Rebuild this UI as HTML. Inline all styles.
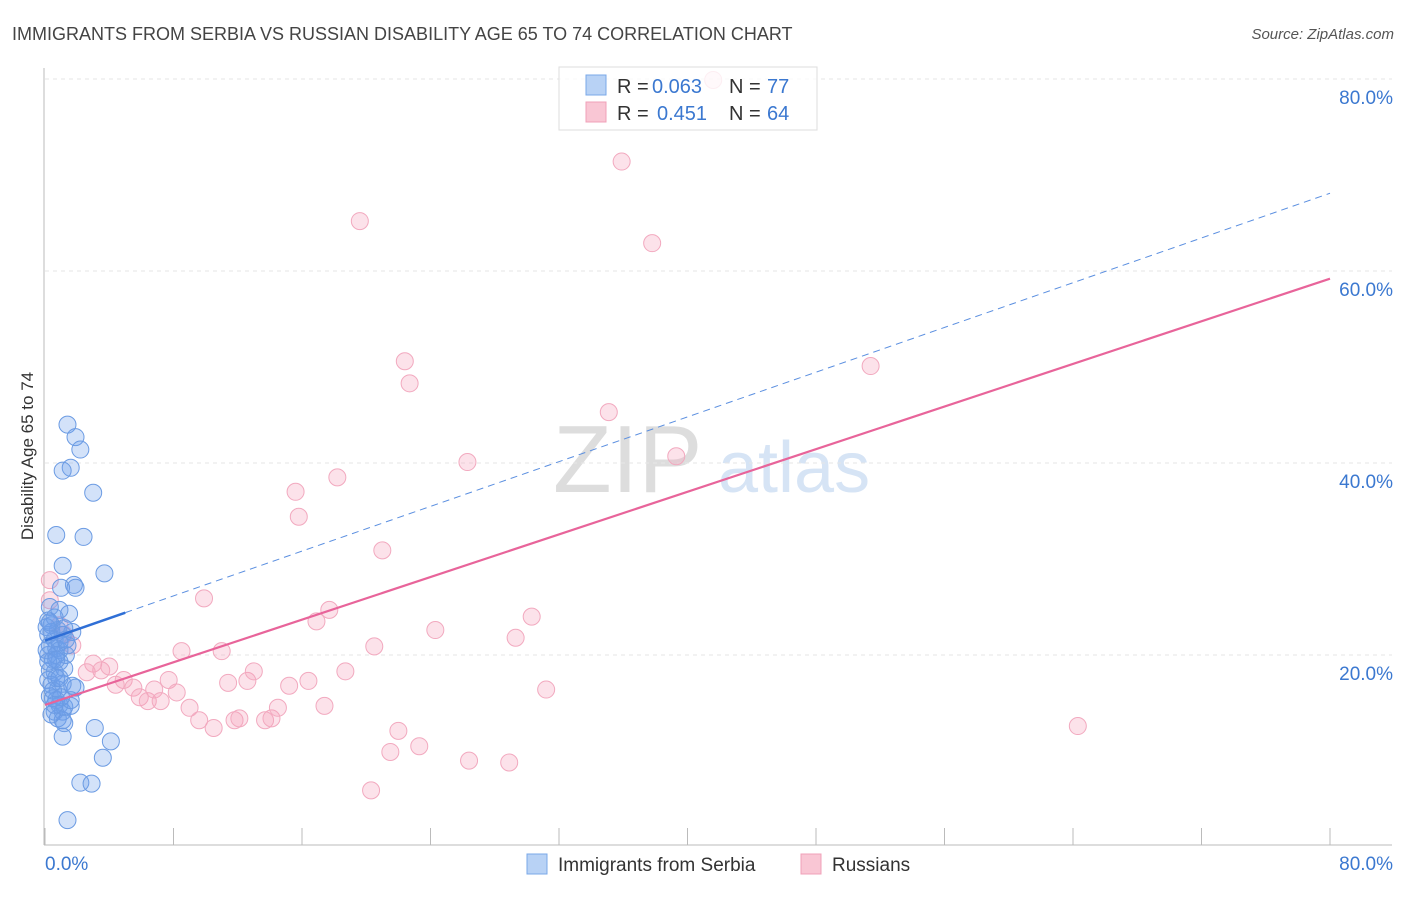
<!DOCTYPE html>
<html><head><meta charset="utf-8">
<style>
body{margin:0;background:#fff;font-family:"Liberation Sans",sans-serif;}
svg text{font-family:"Liberation Sans",sans-serif;}
</style></head>
<body>
<svg id="chart" width="1406" height="892" xmlns="http://www.w3.org/2000/svg">
<text x="12" y="40" font-size="18" fill="#444">IMMIGRANTS FROM SERBIA VS RUSSIAN DISABILITY AGE 65 TO 74 CORRELATION CHART</text>
<text x="1394" y="39" font-size="15" fill="#555" font-style="italic" text-anchor="end">Source: ZipAtlas.com</text>
<text transform="translate(33,456) rotate(-90)" font-size="17" fill="#333" text-anchor="middle">Disability Age 65 to 74</text>
<g>
<text x="553" y="492" font-size="96" fill="#ddd" font-family="Liberation Serif">ZIP</text>
<text x="718" y="492" font-size="72" fill="#d6e4f5">atlas</text>
</g>
<g id="grid"></g>
<g id="axes"></g>
<g id="lines"></g>
<g id="pts"></g>
<g>
<rect x="559" y="67" width="258" height="63" fill="rgba(255,255,255,0.8)" stroke="#ddd"/>
<rect x="586" y="75" width="20" height="20" fill="#b8d2f5" stroke="#7aa8e8"/>
<text x="617" y="93" font-size="20" fill="#333">R =</text>
<text x="652" y="93" font-size="20" fill="#3b78d0">0.063</text>
<text x="729" y="93" font-size="20" fill="#333">N =</text>
<text x="767" y="93" font-size="20" fill="#3b78d0">77</text>
<rect x="586" y="102" width="20" height="20" fill="#f9c6d4" stroke="#f0a0b8"/>
<text x="617" y="120" font-size="20" fill="#333">R =</text>
<text x="657" y="120" font-size="20" fill="#3b78d0">0.451</text>
<text x="729" y="120" font-size="20" fill="#333">N =</text>
<text x="767" y="120" font-size="20" fill="#3b78d0">64</text>
</g>
<g>
<rect x="527" y="854" width="20" height="20" fill="#b8d2f5" stroke="#7aa8e8"/>
<text x="558" y="871" font-size="19" fill="#333">Immigrants from Serbia</text>
<rect x="801" y="854" width="20" height="20" fill="#f9c6d4" stroke="#f0a0b8"/>
<text x="832" y="871" font-size="19" fill="#333">Russians</text>
</g>
</svg>
<script>
const yTicks=[20,40,60,80];
const xTickLabels=["0.0%","80.0%"];
const serbiaX=[1.4,1.9,2.2,1.6,1.1,3.0,0.7,2.4,1.1,1.8,1.0,1.9,3.7,1.5,0.3,0.9,0.4,0.8,0.2,0.6,1.1,0.3,0.7,0.2,0.5,0.9,0.3,0.6,0.2,0.4,0.8,1.2,0.7,0.9,0.6,1.1,1.6,1.9,0.8,1.1,1.2,0.4,0.2,0.6,1.3,1.7,0.9,0.7,1.1,3.1,4.1,3.6,2.2,2.9,1.4,1.1,1.2,0.3,0.5,0.1,0.9,1.4,0.4,0.1,1.2,0.7,1.6,1.7,0.2,0.5,0.3,1.0,0.7,0.6,1.3,0.9];
const serbiaY=[44.0,42.7,41.4,39.5,39.2,36.9,32.5,32.3,29.3,27.3,27.0,27.0,28.5,24.3,25.0,24.7,23.1,22.6,22.1,21.6,22.1,21.0,20.7,20.0,19.5,19.3,18.4,18.2,17.4,16.9,16.4,18.6,15.3,14.8,14.1,14.1,14.7,16.6,13.4,13.2,12.9,13.8,23.6,23.9,20.0,22.4,20.5,17.6,17.0,12.4,11.0,9.3,6.7,6.6,2.8,11.5,14.6,15.7,15.5,20.5,21.3,21.0,22.4,22.9,22.8,20.0,15.3,16.8,19.3,16.3,23.4,15.6,19.5,14.8,21.6,17.6];
const russX=[41.6,35.9,19.6,37.8,22.4,22.7,51.4,35.1,26.3,39.3,18.2,15.6,15.8,21.0,9.9,17.7,16.9,30.3,24.3,29.3,20.5,8.5,11.0,1.7,1.2,3.0,3.5,2.6,4.0,4.9,4.4,5.5,5.9,6.4,6.8,7.2,7.7,8.2,9.0,9.6,10.5,11.4,11.8,12.1,12.6,13.0,13.7,14.1,14.5,15.2,16.4,17.4,18.7,22.0,21.5,23.3,26.4,28.9,31.2,20.3,64.3,0.3,0.3,0.9];
const russY=[79.9,71.4,65.2,62.9,50.6,48.3,50.1,45.3,40.1,40.7,38.5,37.0,34.4,30.9,25.9,24.7,23.5,24.0,22.6,21.8,20.9,20.4,20.4,21.0,22.1,19.1,18.4,18.2,18.8,17.4,16.9,16.6,15.6,15.2,16.4,15.2,17.4,16.1,14.5,13.2,12.4,17.1,13.2,13.4,17.3,18.3,13.2,13.4,14.5,16.8,17.3,14.7,18.3,12.1,9.9,10.5,9.0,8.8,16.4,5.9,12.6,25.7,27.8,23.1];
const serbiaTrend=[21.5,68.1];
const serbiaSolidEnd=5;
const russTrend=[14.8,59.2];
const NS="http://www.w3.org/2000/svg";
const sx=v=>45+v*1285/80, sy=v=>847-v*9.6;
function mk(t,a,p){const e=document.createElementNS(NS,t);for(const k in a)e.setAttribute(k,a[k]);p.appendChild(e);return e;}
const grid=document.getElementById('grid'),axes=document.getElementById('axes'),lines=document.getElementById('lines'),pts=document.getElementById('pts');
yTicks.forEach(v=>{
 const l=mk('line',{x1:45,x2:1392,y1:sy(v),y2:sy(v),stroke:'#e6e6e6','stroke-dasharray':'4,4'},grid);
 
 
 const t=mk('text',{x:1393,y:sy(v)+25,'font-size':19,fill:'#3b78d0','text-anchor':'end'},grid);
 t.textContent=v.toFixed(1)+'%';
 
 
});
const ax=mk('line',{x1:44,x2:44,y1:68,y2:845,stroke:'#bbb'},axes);


const bx=mk('line',{x1:44,x2:1392,y1:845,y2:845,stroke:'#bbb'},axes);


for(let i=0;i<=10;i++){const x=sx(i*8);const t=mk('line',{x1:x,x2:x,y1:828,y2:845,stroke:'#bbb'},axes);
 
 }
[[0,'start',45],[80,'end',1393]].forEach((d,i)=>{const t=mk('text',{x:d[2],y:870,'font-size':19,fill:'#3b78d0','text-anchor':d[1]},axes);t.textContent=xTickLabels[i];
 
 });
function pt(xs,ys,fill,stroke,name){xs.forEach((x,i)=>{const c=mk('circle',{cx:sx(x),cy:sy(ys[i]),r:8.5,fill:fill,stroke:stroke,'stroke-width':1},pts);
 
 });}
pt(russX,russY,'rgba(244,160,186,0.3)','#f2a9bf','russians-point');
pt(serbiaX,serbiaY,'rgba(110,160,235,0.3)','#6b9be3','serbia-point');
const yAt=(tr,x)=>tr[0]+(tr[1]-tr[0])*x/80;
const d1=mk('line',{x1:sx(serbiaSolidEnd),y1:sy(yAt(serbiaTrend,serbiaSolidEnd)),x2:sx(80),y2:sy(serbiaTrend[1]),stroke:'#5b8fe0','stroke-width':1,'stroke-dasharray':'7,5'},lines);


const s1=mk('line',{x1:sx(0),y1:sy(serbiaTrend[0]),x2:sx(serbiaSolidEnd),y2:sy(yAt(serbiaTrend,serbiaSolidEnd)),stroke:'#2f6fd6','stroke-width':2.5},pts);


const r1=mk('line',{x1:sx(0),y1:sy(russTrend[0]),x2:sx(80),y2:sy(russTrend[1]),stroke:'#e8649a','stroke-width':2.2},pts);


</script>
</body></html>
